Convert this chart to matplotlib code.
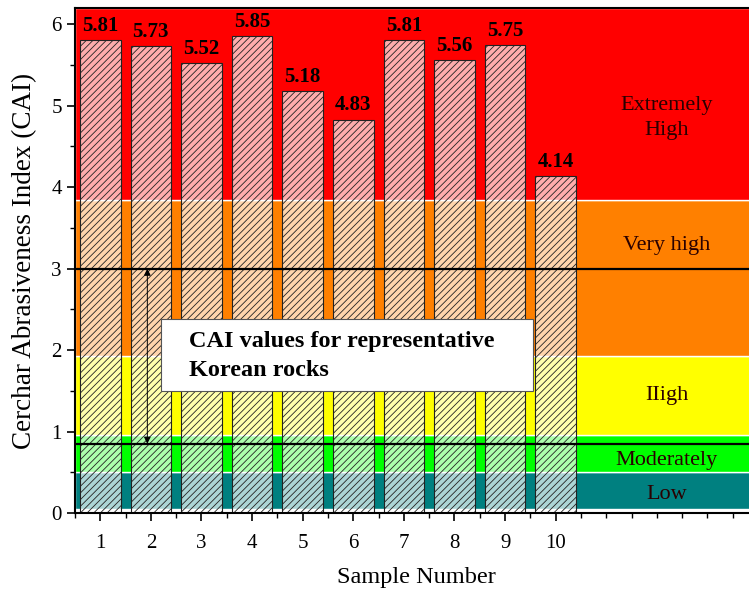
import numpy as np
import matplotlib
matplotlib.use("Agg")
import matplotlib.pyplot as plt

plt.rcParams['font.family'] = ['Liberation Serif', 'DejaVu Serif']
plt.rcParams['hatch.linewidth'] = 0.6
plt.rcParams['hatch.color'] = '#3a3a3a'

# data
samples = np.arange(1, 11)
cai = [5.81, 5.73, 5.52, 5.85, 5.18, 4.83, 5.81, 5.56, 5.75, 4.14]

# classification bands
band_lo = [0.05, 0.50, 0.96, 1.93, 3.84]
band_hi = [0.50, 0.96, 1.93, 3.84, 6.2]
band_col = ['#008080', '#00ff00', '#ffff00', '#ff8000', '#ff0000']
band_lab = ['Low', 'Moderately', 'IIigh', 'Very high', 'Extremely\nHigh']
band_lab_y = [0.23, 0.64, 1.44, 3.28, 4.85]

ref_lines = [3.0, 0.85]

fig = plt.figure(figsize=(7.49, 5.91), dpi=100)
ax = fig.add_axes([0.1001, 0.1320, 0.912, 0.8545])

for lo, hi, c in zip(band_lo, band_hi, band_col):
    ax.axhspan(lo, hi, facecolor=c, edgecolor='white', linewidth=1.0, zorder=0)

for lab, ly in zip(band_lab, band_lab_y):
    ax.text(12.2, ly, lab, ha='center', va='center', fontsize=16,
            color='#2a0000', linespacing=1.45, zorder=5)

ax.bar(samples, cai, width=0.8, color=(1, 1, 1, 0.68), edgecolor='#222222',
       linewidth=0.8, hatch='/////', zorder=2)

for x, v in zip(samples, cai):
    ax.text(x, v + 0.05, f'{v:.2f}', ha='center', va='bottom', fontsize=15,
            fontweight='bold', zorder=5)

for y in ref_lines:
    ax.axhline(y, color='black', linewidth=1.6, zorder=3)

ax.annotate('', xy=(1.93, ref_lines[1]), xytext=(1.93, ref_lines[0]),
            arrowprops=dict(arrowstyle='<|-|>', color='black', lw=0.7,
                            mutation_scale=10, shrinkA=0, shrinkB=0), zorder=4)

# annotation box
ax.add_patch(plt.Rectangle((2.21, 1.50), 9.55 - 2.21, 2.38 - 1.50,
                           facecolor='white', edgecolor='#555555', linewidth=0.8, zorder=5))
ax.text(2.76, 1.93, 'CAI values for representative\nKorean rocks',
        ha='left', va='center', fontsize=17.5, fontweight='bold', zorder=6,
        linespacing=1.5)

ax.set_xlim(0.5, 14)
ax.set_ylim(0, 6.2)
ax.set_xticks(samples)
ax.set_xticks([x for x in np.arange(0.5, 14.01, 0.5) if x not in samples], minor=True)
ax.set_yticks(np.arange(0, 7, 1))
ax.set_yticks(np.arange(0.5, 6.2, 1), minor=True)
ax.tick_params(axis='both', which='major', direction='out', length=6, width=1.2,
               labelsize=15)
ax.tick_params(axis='both', which='minor', direction='out', length=3.5, width=1.0)
ax.tick_params(axis='x', which='major', pad=9)

ax.spines['right'].set_visible(False)
for s in ['left', 'bottom', 'top']:
    ax.spines[s].set_linewidth(1.5)

ax.set_xlabel('Sample Number', fontsize=17.5, labelpad=10)
ax.set_ylabel('Cerchar Abrasiveness Index (CAI)', fontsize=19.5, labelpad=10)

fig.savefig('out.png', dpi=100)
